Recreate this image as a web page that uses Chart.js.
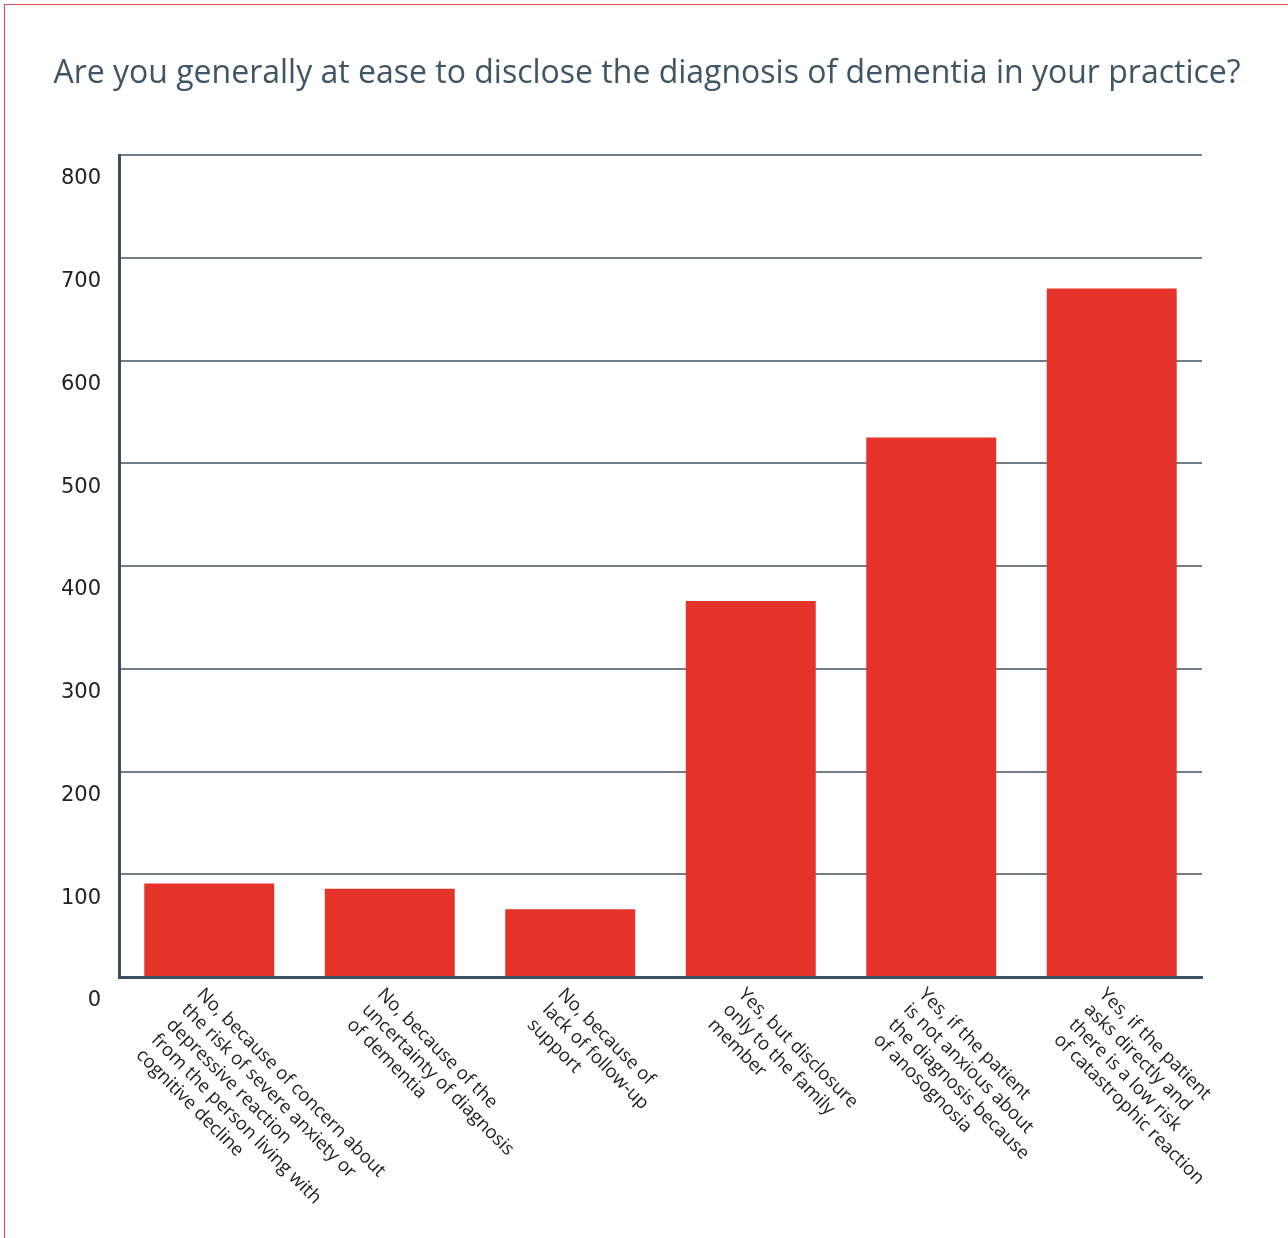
<!DOCTYPE html>
<html>
<head>
<meta charset="utf-8">
<title>Disclosure of dementia diagnosis</title>
<script src="https://cdn.jsdelivr.net/npm/chart.js@4"></script>
<style>
  html, body { margin: 0; padding: 0; background: #fff; }
  #wrap { position: relative; width: 1288px; height: 1238px; overflow: hidden; }
  #frame {
    position: absolute; left: 4px; top: 4px; width: 1400px; height: 1400px;
    border-left: 1.5px solid #e8484a; border-top: 1.5px solid #e8484a;
    pointer-events: none;
  }
</style>
</head>
<body>
<div id="wrap">
  <canvas id="chart" width="1288" height="1238"></canvas>
  <div id="frame"></div>
</div>
<script>
// Chart data
const chartTitle = 'Are you generally at ease to disclose the diagnosis of dementia in your practice?';
const categories = [
  ['No, because of concern about', 'the risk of severe anxiety or', 'depressive reaction', 'from the person living with', 'cognitive decline'],
  ['No, because of the', 'uncertainty of diagnosis', 'of dementia'],
  ['No, because of', 'lack of follow-up', 'support'],
  ['Yes, but disclosure', 'only to the family', 'member'],
  ['Yes, if the patient', 'is not anxious about', 'the diagnosis because', 'of anosognosia'],
  ['Yes, if the patient', 'asks directly and', 'there is a low risk', 'of catastrophic reaction']
];
const responses = [91, 86, 66, 366, 525, 670];
const yTicks = [0, 100, 200, 300, 400, 500, 600, 700, 800];

const barRed = '#e5332a';
const axisDark = '#3d4f5e';
const gridGrey = '#6f7e8a';

// Title centred on the whole canvas (the built-in one centres on the padded box)
const pageTitle = {
  id: 'pageTitle',
  afterDraw(chart) {
    const ctx = chart.ctx;
    ctx.save();
    ctx.font = '32px "Open Sans"';
    ctx.fillStyle = '#3e5565';
    ctx.textAlign = 'center';
    ctx.textBaseline = 'alphabetic';
    ctx.fillText(chartTitle, chart.width / 2 + 3, 83);
    ctx.restore();
  }
};

// Draws the category labels rotated 45deg clockwise, hanging from each tick
const slantedLabels = {
  id: 'slantedLabels',
  afterDraw(chart) {
    const ctx = chart.ctx;
    const xScale = chart.scales.x;
    const top = chart.chartArea.bottom + 8;
    ctx.save();
    ctx.font = '18.5px "Open Sans"';
    ctx.fillStyle = '#222';
    ctx.textAlign = 'left';
    ctx.textBaseline = 'top';
    categories.forEach((lines, i) => {
      const x = xScale.getPixelForValue(i) - 3;
      ctx.save();
      ctx.translate(x, top);
      ctx.rotate(Math.PI / 4);
      lines.forEach((line, j) => {
        ctx.fillText(line, 0, j * 21.5);
      });
      ctx.restore();
    });
    ctx.restore();
  }
};

document.addEventListener('DOMContentLoaded', () => {
  const ctx = document.getElementById('chart').getContext('2d');

  new Chart(ctx, {
    type: 'bar',
    data: {
      labels: categories.map(c => c.join(' ')),
      datasets: [{
        data: responses,
        backgroundColor: barRed,
        barPercentage: 0.72,
        categoryPercentage: 1
      }]
    },
    options: {
      responsive: false,
      animation: false,
      layout: { padding: { top: 155, left: 0, right: 86, bottom: 0 } },
      plugins: {
        legend: { display: false },
        tooltip: { enabled: false },
        title: { display: false }
      },
      scales: {
        x: {
          grid: { display: false, drawTicks: false },
          border: { display: true, color: axisDark, width: 3 },
          ticks: { display: false },
          afterFit(scale) { scale.height = 1238 - 977; }
        },
        y: {
          min: yTicks[0],
          max: yTicks[yTicks.length - 1],
          afterBuildTicks(scale) {
            scale.ticks = yTicks.map(v => ({ value: v }));
          },
          grid: { color: gridGrey, lineWidth: 2, drawTicks: false },
          border: { display: true, color: axisDark, width: 3 },
          ticks: {
            color: '#222',
            padding: 18,
            labelOffset: 24,
            font: { family: '"DejaVu Sans"', size: 21 }
          },
          afterFit(scale) { scale.width = 119; }
        }
      }
    },
    plugins: [pageTitle, slantedLabels]
  });
});
</script>
</body>
</html>
